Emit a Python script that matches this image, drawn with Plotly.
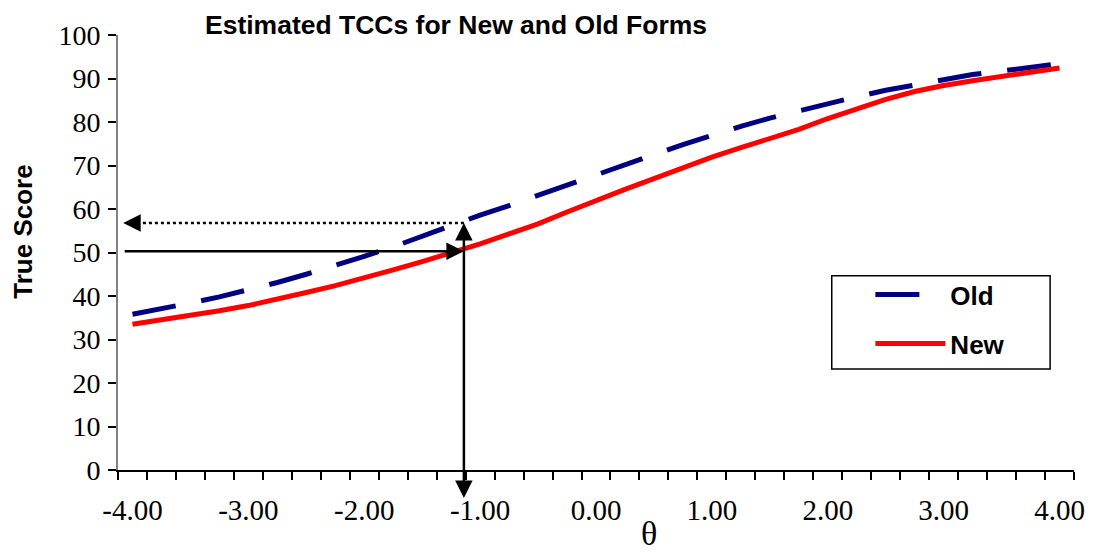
import plotly.graph_objects as go

# theta categories (Excel category axis, every 0.25)
theta = [-4.00, -3.75, -3.50, -3.25, -3.00, -2.75, -2.50, -2.25, -2.00, -1.75, -1.50,
         -1.25, -1.00, -0.75, -0.50, -0.25, 0.00, 0.25, 0.50, 0.75, 1.00, 1.25, 1.50,
         1.75, 2.00, 2.25, 2.50, 2.75, 3.00, 3.25, 3.50, 3.75, 4.00]

old_form = [35.8, 37.0, 38.4, 39.8, 41.4, 43.1, 45.0, 47.0, 49.1, 51.3, 53.8,
            56.3, 58.6, 60.8, 63.2, 65.6, 68.0, 70.4, 72.5, 74.8, 77.0, 79.0, 80.9,
            82.6, 84.3, 85.8, 87.3, 88.6, 89.7, 90.9, 91.8, 92.7, 93.4]

new_form = [33.5, 34.5, 35.5, 36.6, 37.8, 39.2, 40.8, 42.4, 44.1, 46.0, 47.9,
            49.9, 52.0, 54.3, 56.6, 59.3, 62.0, 64.5, 67.0, 69.5, 71.9, 74.1, 76.2,
            78.3, 80.8, 83.0, 85.2, 87.0, 88.4, 89.5, 90.5, 91.5, 92.4]

tick_vals = [-4, -3, -2, -1, 0, 1, 2, 3, 4]
tick_text = ["-4.00", "-3.00", "-2.00", "-1.00", "0.00", "1.00", "2.00", "3.00", "4.00"]

# equating arrows
theta_cut = -1.14
new_at_cut = 50.3
old_at_cut = 56.8
arrow_left = -4.08
arrow_bottom = -6.8

serif = "Liberation Serif, Times New Roman, serif"
sans = "Liberation Sans, Arial, sans-serif"

fig = go.Figure()
fig.add_trace(go.Scatter(
    x=theta, y=old_form, mode="lines", name="Old", legendgroup="old",
    line=dict(color="#000080", width=5, dash="44px,26px"),
))
fig.add_trace(go.Scatter(
    x=theta, y=new_form, mode="lines", name="New", legendgroup="new",
    line=dict(color="#FF0000", width=5),
))

# dotted horizontal line (old score) + arrow head on the left
fig.add_shape(type="line", xref="x", yref="y",
              x0=theta_cut, x1=arrow_left + 0.05, y0=old_at_cut, y1=old_at_cut,
              line=dict(color="black", width=2.5, dash="dot"))
fig.add_annotation(x=arrow_left, y=old_at_cut, ax=arrow_left + 0.12, ay=old_at_cut,
                   xref="x", yref="y", axref="x", ayref="y", text="",
                   showarrow=True, arrowhead=2, arrowsize=1.4, arrowwidth=2.5, arrowcolor="black")
# solid horizontal arrow (new score)
fig.add_annotation(x=theta_cut, y=new_at_cut, ax=arrow_left, ay=new_at_cut,
                   xref="x", yref="y", axref="x", ayref="y", text="",
                   showarrow=True, arrowhead=2, arrowsize=1.4, arrowwidth=2.5, arrowcolor="black")
# vertical double arrow at theta
fig.add_annotation(x=theta_cut, y=old_at_cut, ax=theta_cut, ay=arrow_bottom,
                   xref="x", yref="y", axref="x", ayref="y", text="",
                   showarrow=True, arrowhead=2, startarrowhead=2, arrowside="end+start",
                   arrowsize=1.4, startarrowsize=1.4, arrowwidth=2.5, arrowcolor="black")

# legend box
fig.add_shape(type="rect", xref="paper", yref="paper",
              x0=0.7466, x1=0.975, y0=0.2323, y1=0.4465,
              line=dict(color="black", width=1.5), fillcolor="rgba(0,0,0,0)")

# axis titles
fig.add_annotation(text="θ", xref="paper", yref="paper", x=0.555, y=-0.146,
                   xanchor="center", yanchor="middle",
                   showarrow=False, font=dict(family=serif, size=34, color="black"))
fig.add_annotation(text="<b>True Score</b>", xref="paper", yref="paper", x=-0.0997, y=0.547,
                   xanchor="center", yanchor="middle",
                   textangle=-90, showarrow=False, font=dict(family=sans, size=26, color="black"))

# page body has an 8px margin: shrink the figure so the plot area lands on the reference pixels
fig.update_layout(
    width=1089, height=544,
    margin=dict(l=110, r=16, t=23, b=82),
    paper_bgcolor="white", plot_bgcolor="white",
    title=dict(text="<b>Estimated TCCs for New and Old Forms</b>",
               x=197 / 1089, xanchor="left", xref="container",
               y=1 - 17 / 544, yanchor="middle", yref="container",
               font=dict(family=sans, size=26.5, color="black")),
    legend=dict(x=0.787, y=0.457, xanchor="left", yanchor="top",
                bgcolor="rgba(0,0,0,0)", borderwidth=0, itemwidth=70,
                tracegroupgap=12,
                font=dict(family=sans, size=26, color="black", weight="bold")),
    showlegend=True,
)
fig.update_xaxes(
    range=[-4.125, 4.125], tickvals=tick_vals, ticktext=tick_text,
    ticks="", ticklabelstandoff=13,
    tickfont=dict(family=serif, size=29, color="black"),
    showline=True, linecolor="black", linewidth=2, showgrid=False, zeroline=False,
    minor=dict(ticks="outside", tick0=-4.125, dtick=0.25, ticklen=8, tickwidth=1.5,
               tickcolor="black", showgrid=False),
)
fig.update_yaxes(
    range=[0, 100], dtick=10, ticks="outside", ticklen=8, tickwidth=1.5, tickcolor="black",
    ticklabelstandoff=2,
    tickfont=dict(family=serif, size=28, color="black"),
    showline=True, linecolor="#808080", linewidth=2, showgrid=False, zeroline=False,
)

fig.write_html("out.html")
